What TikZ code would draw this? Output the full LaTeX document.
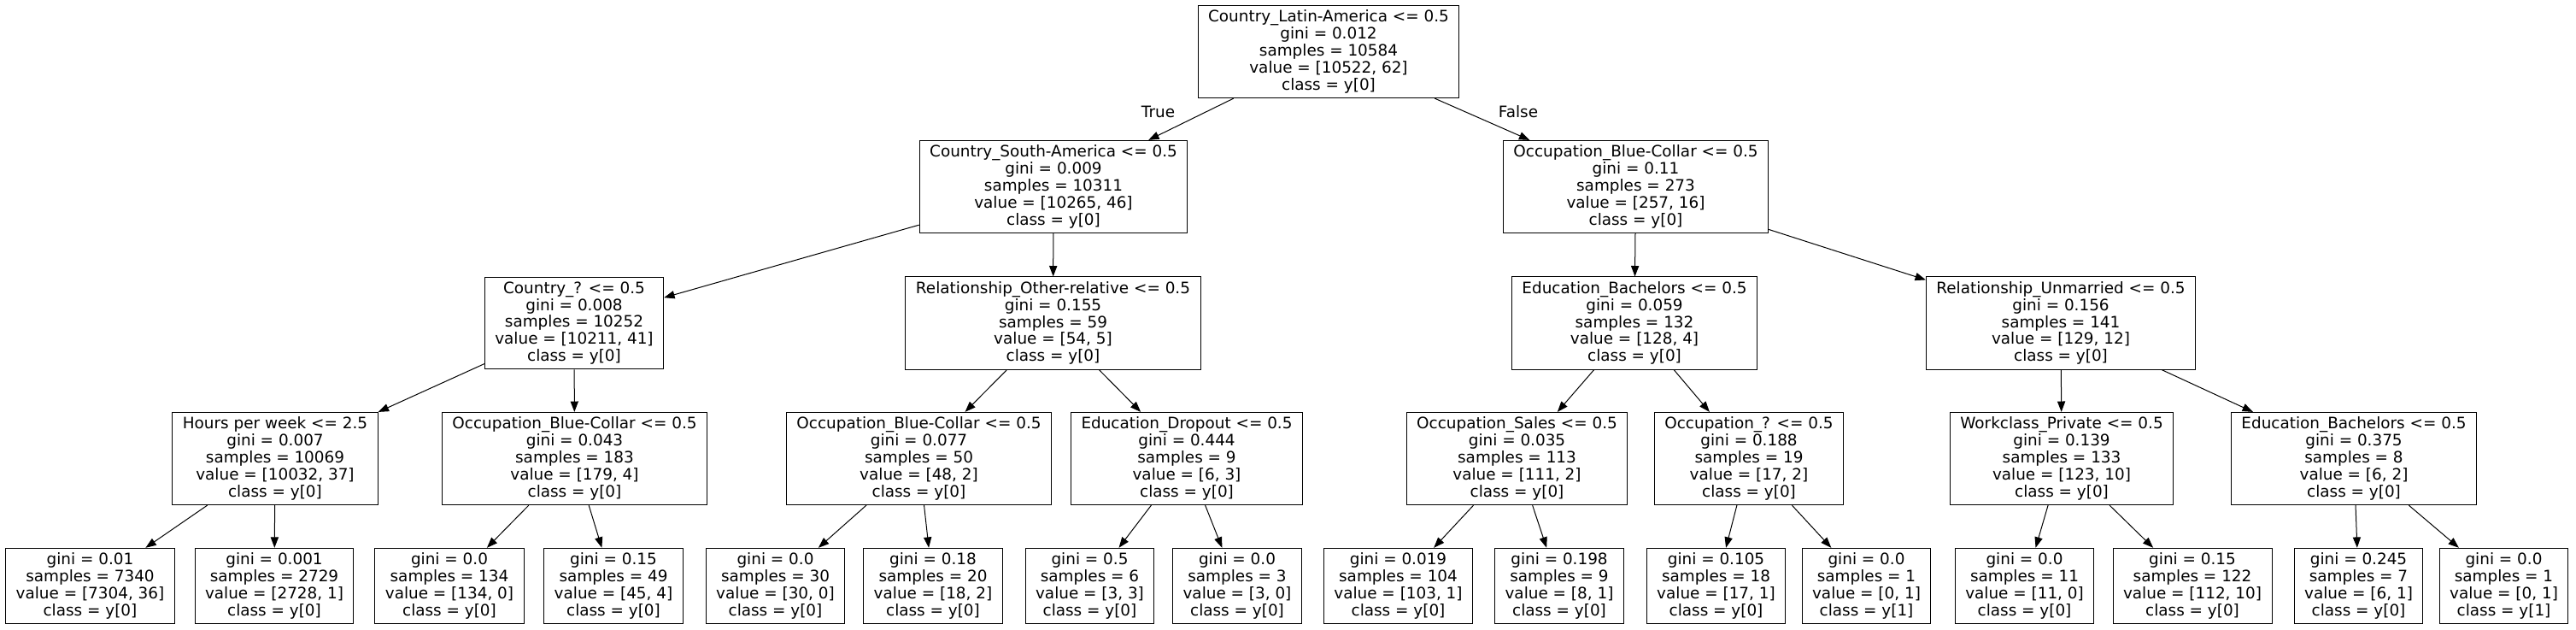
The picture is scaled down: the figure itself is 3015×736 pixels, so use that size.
\documentclass[tikz,border=0pt]{standalone}
\usepackage{fontspec}
\setmainfont{DejaVu Sans}
\usetikzlibrary{arrows.meta}

\begin{document}
\begin{tikzpicture}[
    x=0.5pt, y=-0.5pt,
    treenode/.style={draw, line width=0.5pt, align=center, inner xsep=6pt, inner ysep=2.8pt,
        font=\fontsize{9.2}{9.9}\selectfont},
    edgearrow/.style={line width=0.5pt, -{Triangle[length=6.2pt,width=4.6pt]}},
    edgelabel/.style={inner sep=0pt, font=\fontsize{9.2}{9.9}\selectfont}
]
    \path[use as bounding box, fill=white] (0,0) rectangle (3015,736);

    % depth 0 and 1
    \node[treenode] (root) at (1555,60.5) {Country\_Latin-America <= 0.5\\gini = 0.012\\samples = 10584\\value = [10522, 62]\\class = y[0]};
    \node[treenode] (southam) at (1233,218.5) {Country\_South-America <= 0.5\\gini = 0.009\\samples = 10311\\value = [10265, 46]\\class = y[0]};
    \node[treenode] (bluecollar) at (1914.5,218.5) {Occupation\_Blue-Collar <= 0.5\\gini = 0.11\\samples = 273\\value = [257, 16]\\class = y[0]};

    % depth 2
    \node[treenode] (country) at (672,378) {Country\_? <= 0.5\\gini = 0.008\\samples = 10252\\value = [10211, 41]\\class = y[0]};
    \node[treenode] (otherrel) at (1232.5,378) {Relationship\_Other-relative <= 0.5\\gini = 0.155\\samples = 59\\value = [54, 5]\\class = y[0]};
    \node[treenode] (bachelors) at (1913,378) {Education\_Bachelors <= 0.5\\gini = 0.059\\samples = 132\\value = [128, 4]\\class = y[0]};
    \node[treenode] (unmarried) at (2412,378) {Relationship\_Unmarried <= 0.5\\gini = 0.156\\samples = 141\\value = [129, 12]\\class = y[0]};

    % depth 3
    \node[treenode] (hours) at (322,536.5) {Hours per week <= 2.5\\gini = 0.007\\samples = 10069\\value = [10032, 37]\\class = y[0]};
    \node[treenode] (bluecollarB) at (672.5,536.5) {Occupation\_Blue-Collar <= 0.5\\gini = 0.043\\samples = 183\\value = [179, 4]\\class = y[0]};
    \node[treenode] (bluecollarC) at (1075.5,536.5) {Occupation\_Blue-Collar <= 0.5\\gini = 0.077\\samples = 50\\value = [48, 2]\\class = y[0]};
    \node[treenode] (dropout) at (1389,536.5) {Education\_Dropout <= 0.5\\gini = 0.444\\samples = 9\\value = [6, 3]\\class = y[0]};
    \node[treenode] (sales) at (1775.5,536.5) {Occupation\_Sales <= 0.5\\gini = 0.035\\samples = 113\\value = [111, 2]\\class = y[0]};
    \node[treenode] (occq) at (2047,536.5) {Occupation\_? <= 0.5\\gini = 0.188\\samples = 19\\value = [17, 2]\\class = y[0]};
    \node[treenode] (private) at (2413,536.5) {Workclass\_Private <= 0.5\\gini = 0.139\\samples = 133\\value = [123, 10]\\class = y[0]};
    \node[treenode] (bachelorsB) at (2755,536.5) {Education\_Bachelors <= 0.5\\gini = 0.375\\samples = 8\\value = [6, 2]\\class = y[0]};

    % leaves
    \node[treenode] (leafA) at (105.5,685.5) {gini = 0.01\\samples = 7340\\value = [7304, 36]\\class = y[0]};
    \node[treenode] (leafB) at (321,685.5) {gini = 0.001\\samples = 2729\\value = [2728, 1]\\class = y[0]};
    \node[treenode] (leafC) at (526,685.5) {gini = 0.0\\samples = 134\\value = [134, 0]\\class = y[0]};
    \node[treenode] (leafD) at (718,685.5) {gini = 0.15\\samples = 49\\value = [45, 4]\\class = y[0]};
    \node[treenode] (leafE) at (907.5,685.5) {gini = 0.0\\samples = 30\\value = [30, 0]\\class = y[0]};
    \node[treenode] (leafF) at (1092,685.5) {gini = 0.18\\samples = 20\\value = [18, 2]\\class = y[0]};
    \node[treenode] (leafG) at (1275.5,685.5) {gini = 0.5\\samples = 6\\value = [3, 3]\\class = y[0]};
    \node[treenode] (leafH) at (1448,685.5) {gini = 0.0\\samples = 3\\value = [3, 0]\\class = y[0]};
    \node[treenode] (leafI) at (1636.5,685.5) {gini = 0.019\\samples = 104\\value = [103, 1]\\class = y[0]};
    \node[treenode] (leafJ) at (1825,685.5) {gini = 0.198\\samples = 9\\value = [8, 1]\\class = y[0]};
    \node[treenode] (leafK) at (2008.5,685.5) {gini = 0.105\\samples = 18\\value = [17, 1]\\class = y[0]};
    \node[treenode] (leafL) at (2184.5,685.5) {gini = 0.0\\samples = 1\\value = [0, 1]\\class = y[1]};
    \node[treenode] (leafM) at (2369.5,685.5) {gini = 0.0\\samples = 11\\value = [11, 0]\\class = y[0]};
    \node[treenode] (leafN) at (2566,685.5) {gini = 0.15\\samples = 122\\value = [112, 10]\\class = y[0]};
    \node[treenode] (leafO) at (2760.5,685.5) {gini = 0.245\\samples = 7\\value = [6, 1]\\class = y[0]};
    \node[treenode] (leafP) at (2930.5,685.5) {gini = 0.0\\samples = 1\\value = [0, 1]\\class = y[1]};

    % edges
    \foreach \from/\to in {root/southam, root/bluecollar,
        southam/country, southam/otherrel, bluecollar/bachelors, bluecollar/unmarried,
        country/hours, country/bluecollarB, otherrel/bluecollarC, otherrel/dropout,
        bachelors/sales, bachelors/occq, unmarried/private, unmarried/bachelorsB,
        hours/leafA, hours/leafB, bluecollarB/leafC, bluecollarB/leafD,
        bluecollarC/leafE, bluecollarC/leafF, dropout/leafG, dropout/leafH,
        sales/leafI, sales/leafJ, occq/leafK, occq/leafL,
        private/leafM, private/leafN, bachelorsB/leafO, bachelorsB/leafP}
        \draw[edgearrow] (\from) -- (\to);

    \node[edgelabel] (truelbl) at (1355.5,131) {True};
    \node[edgelabel] (falselbl) at (1777,131) {False};
\end{tikzpicture}
\end{document}
